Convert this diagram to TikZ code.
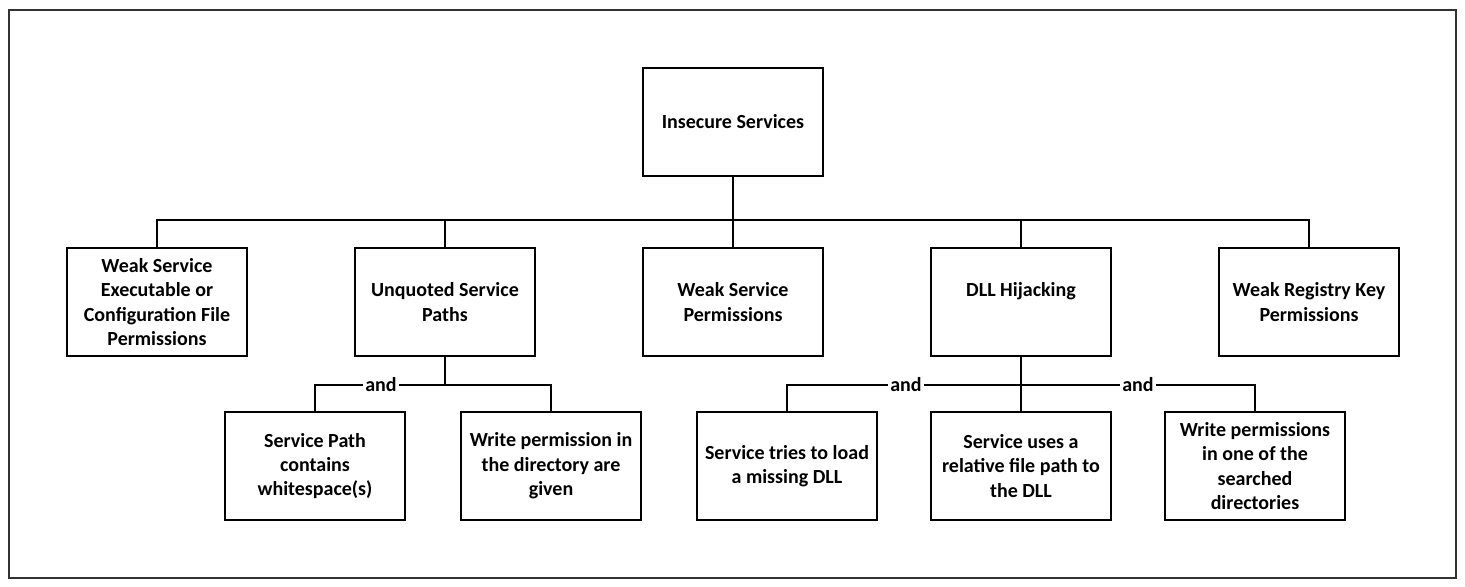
\documentclass[tikz,border=0pt]{standalone}
\usepackage{fontspec}
\setmainfont{Carlito}
\begin{document}
\begin{tikzpicture}[x=0.5pt,y=-0.5pt,
  box/.style={draw=black,line width=1pt,rectangle,minimum width=90pt,minimum height=54pt,inner sep=0pt,align=center,font=\bfseries\fontsize{10}{12.2}\selectfont},
  conn/.style={draw=black,line width=1pt},
  andlbl/.style={fill=white,inner sep=1pt,font=\bfseries\fontsize{10}{12}\selectfont}]
\useasboundingbox (0,0) rectangle (1465,587);
\draw[line width=0.8pt,draw=black!80] (9,10) rectangle (1456,578);
% nodes
\node[box] (top) at (733,122) {Insecure Services};
\node[box] (w1) at (157,302) {Weak Service\\Executable or\\Configuration File\\Permissions};
\node[box] (w2) at (445,302) {Unquoted Service\\Paths};
\node[box] (w3) at (733,302) {Weak Service\\Permissions};
\node[box] (w4) at (1021,302) {DLL Hijacking\\\mbox{}};
\node[box] (w5) at (1309,302) {Weak Registry Key\\Permissions};
\node[box] (a1) at (315,466) {Service Path\\contains\\whitespace(s)};
\node[box] (a2) at (551,466) {Write permission in\\the directory are\\given};
\node[box] (b1) at (787,466) {Service tries to load\\a missing DLL};
\node[box] (b2) at (1021,466) {Service uses a\\relative file path to\\the DLL};
\node[box] (b3) at (1255,466) {Write permissions\\in one of the\\searched\\directories};
% junctions
\coordinate (j1) at (733,220);
\coordinate (j2) at (445,385);
\coordinate (j3) at (1021,385);
% connectors
\draw[conn] (top.south) -- (w3.north);
\draw[conn] (w1.north) |- (j1) -| (w5.north);
\draw[conn] (j1) -| (w2.north);
\draw[conn] (j1) -| (w4.north);
\draw[conn] (w2.south) -- (j2);
\draw[conn] (a1.north) |- (j2) -| (a2.north);
\draw[conn] (w4.south) -- (b2.north);
\draw[conn] (b1.north) |- (j3) -| (b3.north);
% labels
\node[andlbl] (and1) at (381,385) {and};
\node[andlbl] (and2) at (906,385) {and};
\node[andlbl] (and3) at (1138,385) {and};
\end{tikzpicture}
\end{document}
